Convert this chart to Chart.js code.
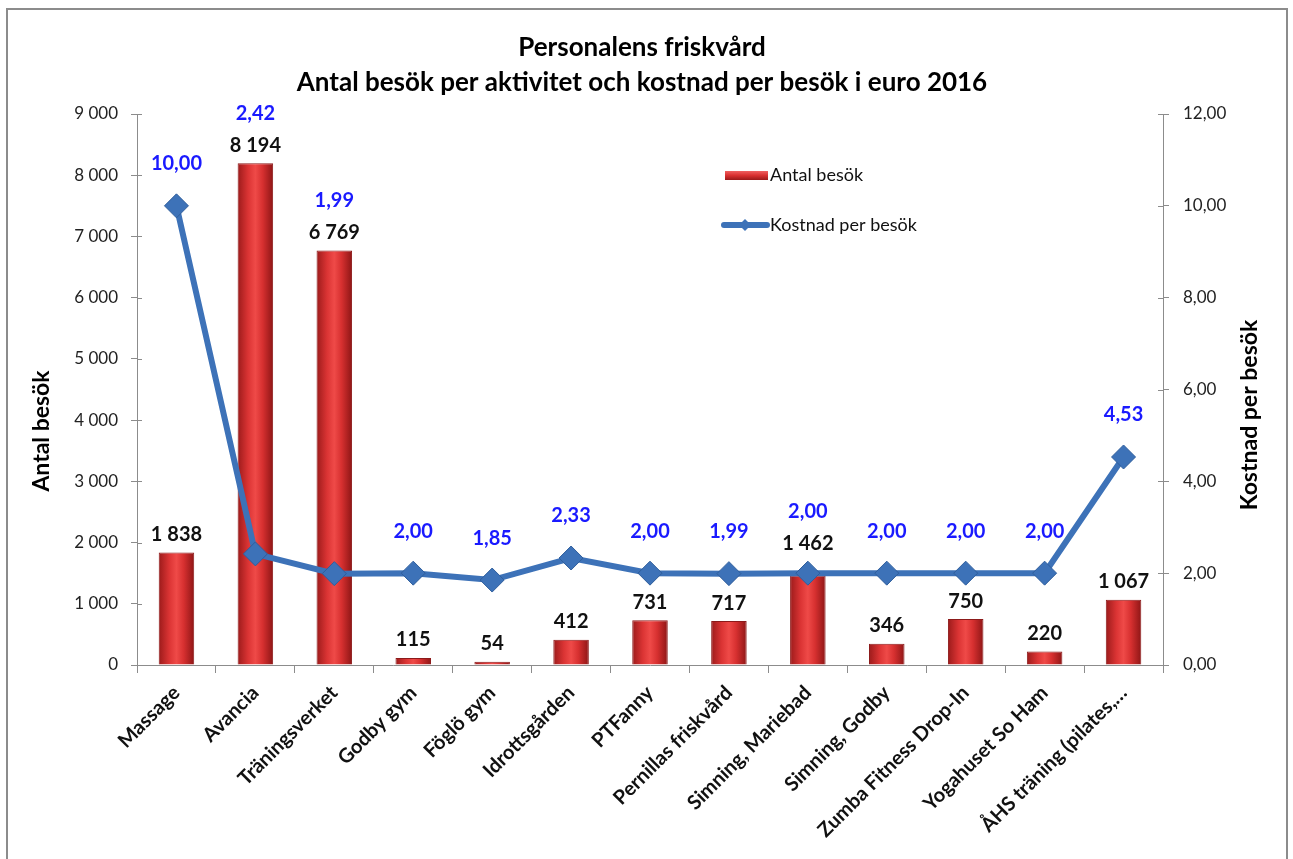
<!DOCTYPE html>
<html>
<head>
<meta charset="utf-8">
<script src="https://cdn.jsdelivr.net/npm/chart.js@4.4.1/dist/chart.umd.min.js"></script>
<style>
  html, body { margin: 0; padding: 0; background: #fff; }
  #wrap { position: relative; width: 1293px; height: 859px; overflow: hidden; }
  #frame { position: absolute; left: 6px; top: 8px; width: 1282px; height: 870px; border: 2px solid #8c8c8c; box-sizing: border-box; }
  canvas { position: absolute; left: 0; top: 0; }
</style>
</head>
<body>
<div id="wrap">
  <div id="frame"></div>
  <canvas id="main-chart" width="1293" height="859"></canvas>
</div>
<script>
// data
const categories = ['Massage', 'Avancia', 'Träningsverket', 'Godby gym', 'Föglö gym', 'Idrottsgården',
    'PTFanny', 'Pernillas friskvård', 'Simning, Mariebad', 'Simning, Godby', 'Zumba Fitness Drop-In',
    'Yogahuset So Ham', 'ÅHS träning (pilates,…'];
const visits = [1838, 8194, 6769, 115, 54, 412, 731, 717, 1462, 346, 750, 220, 1067];
const costPerVisit = [10.00, 2.42, 1.99, 2.00, 1.85, 2.33, 2.00, 1.99, 2.00, 2.00, 2.00, 2.00, 4.53];
const visitTicks = [0, 1000, 2000, 3000, 4000, 5000, 6000, 7000, 8000, 9000];
const costTicks = [0, 2, 4, 6, 8, 10, 12];
const titleLines = ['Personalens friskvård', 'Antal besök per aktivitet och kostnad per besök i euro 2016'];
const seriesNames = ['Antal besök', 'Kostnad per besök'];

const FONT = 'Lato, "Open Sans", sans-serif';
const BLUE = '#3d72b8';

const fmtInt = n => String(n).replace(/\B(?=(\d{3})+(?!\d))/g, ' ');
const fmtDec = v => v.toFixed(2).replace('.', ',');

function barGradient(ctx, cx, half) {
    const g = ctx.createLinearGradient(cx - half, 0, cx + half, 0);
    g.addColorStop(0, '#9a1a1a');
    g.addColorStop(0.3, '#db3434');
    g.addColorStop(0.5, '#ef4a48');
    g.addColorStop(0.7, '#d73030');
    g.addColorStop(1, '#8c1515');
    return g;
}

const extras = {
    id: 'extras',
    afterDatasetsDraw(chart) {
        const ctx = chart.ctx;
        const bars = chart.getDatasetMeta(1).data;
        const pts = chart.getDatasetMeta(0).data;
        ctx.save();
        ctx.textAlign = 'center';
        ctx.textBaseline = 'middle';
        ctx.font = 'bold 20px ' + FONT;
        bars.forEach((bar, i) => {
            const pt = pts[i];
            let by = bar.y - 18;
            // keep the bar label clear of the line marker
            if (pt.y > by - 10 && pt.y < by + 25) by = pt.y - 30;
            ctx.fillStyle = '#111';
            ctx.fillText(fmtInt(visits[i]), bar.x, by);
            const ly = by < pt.y ? by - 32 : pt.y - 42;
            ctx.fillStyle = '#1a1aff';
            ctx.fillText(fmtDec(costPerVisit[i]), pt.x, ly);
        });
        ctx.restore();
    },
    afterDraw(chart) {
        const ctx = chart.ctx;
        const a = chart.chartArea;
        ctx.save();
        // inner halves of the tick marks
        ctx.strokeStyle = '#8c8c8c';
        ctx.lineWidth = 1;
        ctx.beginPath();
        const yl = chart.scales.y, yr = chart.scales.y1;
        visitTicks.forEach(v => { const y = Math.round(yl.getPixelForValue(v)) + 0.5; ctx.moveTo(a.left, y); ctx.lineTo(a.left + 5, y); });
        costTicks.forEach(v => { const y = Math.round(yr.getPixelForValue(v)) + 0.5; ctx.moveTo(a.right, y); ctx.lineTo(a.right - 5, y); });
        ctx.stroke();

        // titles
        ctx.fillStyle = '#000';
        ctx.textAlign = 'center';
        ctx.textBaseline = 'middle';
        ctx.font = 'bold 26px ' + FONT;
        ctx.fillText(titleLines[0], 642, 48);
        ctx.fillText(titleLines[1], 642, 83);

        ctx.font = 'bold 23px ' + FONT;
        [[42, 431, seriesNames[0]], [1250, 415, seriesNames[1]]].forEach(([x, y, t]) => {
            ctx.save();
            ctx.translate(x, y);
            ctx.rotate(-Math.PI / 2);
            ctx.fillText(t, 0, 0);
            ctx.restore();
        });

        // legend
        ctx.font = '18px ' + FONT;
        ctx.textAlign = 'left';
        const lg = ctx.createLinearGradient(0, 171, 0, 180);
        lg.addColorStop(0, '#f06060'); lg.addColorStop(0.5, '#d83030'); lg.addColorStop(1, '#9a1a1a');
        ctx.fillStyle = lg;
        ctx.fillRect(725, 171, 43, 9);
        ctx.fillStyle = '#111';
        ctx.fillText(seriesNames[0], 770, 175);

        ctx.strokeStyle = BLUE;
        ctx.lineWidth = 6;
        ctx.lineCap = 'round';
        ctx.beginPath(); ctx.moveTo(724, 225); ctx.lineTo(767, 225); ctx.stroke();
        ctx.fillStyle = BLUE;
        ctx.beginPath();
        ctx.moveTo(745, 219); ctx.lineTo(751, 225); ctx.lineTo(745, 231); ctx.lineTo(739, 225); ctx.closePath();
        ctx.fill();
        ctx.fillStyle = '#111';
        ctx.fillText(seriesNames[1], 770, 225);
        ctx.restore();
    }
};

new Chart(document.getElementById('main-chart'), {
    data: {
        labels: categories,
        datasets: [{
            type: 'line',
            label: seriesNames[1],
            data: costPerVisit,
            yAxisID: 'y1',
            borderColor: BLUE,
            borderWidth: 6,
            backgroundColor: BLUE,
            pointStyle: 'rectRot',
            pointRadius: 12,
            pointBackgroundColor: BLUE,
            pointBorderColor: '#2f5e9c',
            pointBorderWidth: 1,
            tension: 0,
            order: 0,
        }, {
            type: 'bar',
            label: seriesNames[0],
            data: visits,
            yAxisID: 'y',
            categoryPercentage: 1,
            barPercentage: 0.45,
            borderColor: '#8c1a1a',
            borderWidth: 1,
            backgroundColor: function (c) {
                const x = c.chart.scales.x;
                if (!x || c.dataIndex === undefined) return '#d43030';
                const cx = x.getPixelForValue(c.dataIndex);
                if (!isFinite(cx)) return '#d43030';
                return barGradient(c.chart.ctx, cx, 18);
            },
            order: 1,
        }],
    },
    options: {
        responsive: false,
        animation: false,
        layout: { padding: { top: 114, left: 0, right: 0, bottom: 0 } },
        plugins: { legend: { display: false }, tooltip: { enabled: false } },
        scales: {
            x: {
                offset: true,
                grid: { display: true, drawOnChartArea: false, drawTicks: true, tickLength: 8, color: '#8c8c8c', offset: true },
                border: { color: '#8c8c8c' },
                ticks: { maxRotation: 45, minRotation: 45, padding: 8, color: '#111', font: { family: FONT, size: 20, weight: 'bold' } },
                afterFit: s => { s.height = 859 - 114 - 551; },
            },
            y: {
                position: 'left',
                min: 0, max: 9000,
                afterBuildTicks: s => { s.ticks = visitTicks.map(v => ({ value: v })); },
                grid: { drawOnChartArea: false, drawTicks: true, tickLength: 6, color: '#8c8c8c' },
                border: { color: '#8c8c8c' },
                ticks: { padding: 13, color: '#222', font: { family: FONT, size: 17 }, callback: v => fmtInt(v) },
                afterFit: s => { s.width = 137; },
            },
            y1: {
                position: 'right',
                min: 0, max: 12,
                afterBuildTicks: s => { s.ticks = costTicks.map(v => ({ value: v })); },
                grid: { drawOnChartArea: false, drawTicks: true, tickLength: 6, color: '#8c8c8c' },
                border: { color: '#8c8c8c' },
                ticks: { padding: 14, color: '#222', font: { family: FONT, size: 17 }, callback: v => fmtDec(v) },
                afterFit: s => { s.width = 1293 - 1163; },
            },
        },
    },
    plugins: [extras],
});
</script>
</body>
</html>
